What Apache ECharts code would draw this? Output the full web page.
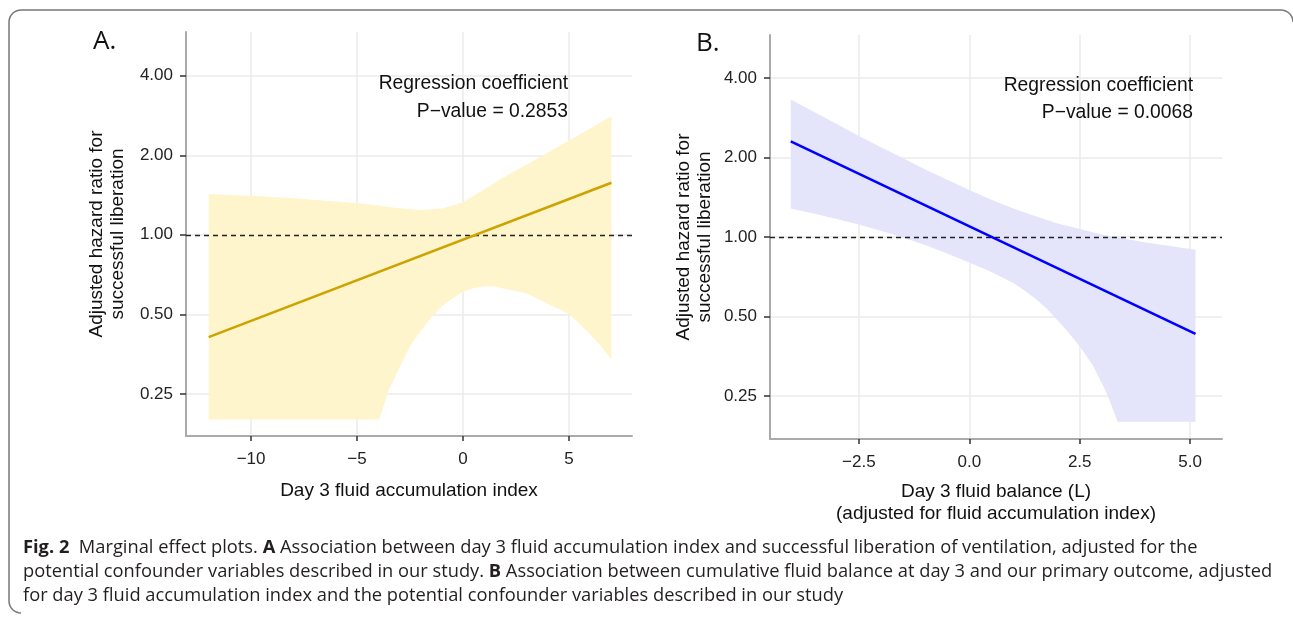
<!DOCTYPE html>
<html><head><meta charset="utf-8">
<script src="https://cdn.jsdelivr.net/npm/echarts@6/dist/echarts.min.js"></script>
<style>html,body{margin:0;padding:0;background:#fff}#c{width:1293px;height:618px}</style>
</head><body><div id="c"></div>
<script>
// ---- Panel A: day 3 fluid accumulation index ----
const aLineX = [-12, 7];
const aLineHR = [0.41, 1.573];
const aUpperX = [-12, -10, -8, -6, -5, -4, -3, -2, -1, -0.5, 0, 0.5, 1, 1.5, 2, 3, 4, 5, 6, 7];
const aUpperHR = [1.427, 1.404, 1.376, 1.338, 1.320, 1.292, 1.261, 1.240, 1.257, 1.292, 1.329, 1.404, 1.484, 1.575, 1.664, 1.847, 2.049, 2.273, 2.523, 2.809];
const aLowerX = [-12, -3.96, -3.75, -3.5, -3, -2.5, -2, -1.5, -1, -0.5, 0, 0.5, 1, 1.5, 2, 2.5, 3, 3.5, 4, 4.5, 5, 5.5, 6, 6.5, 7];
const aLowerHR = [0.2, 0.2, 0.225, 0.259, 0.314, 0.379, 0.432, 0.486, 0.536, 0.574, 0.607, 0.629, 0.637, 0.637, 0.624, 0.611, 0.599, 0.574, 0.547, 0.525, 0.5, 0.460, 0.420, 0.379, 0.337];

// ---- Panel B: day 3 fluid balance (L) ----
const bLineX = [-4.04, 5.12];
const bLineHR = [2.30, 0.43];
const bUpperX = [-4.04, -3.5, -3, -2.5, -2, -1.5, -1, -0.5, 0, 0.5, 1, 1.5, 2, 2.5, 3, 3.5, 4, 4.5, 5.12];
const bUpperHR = [3.317, 2.969, 2.676, 2.412, 2.188, 1.986, 1.802, 1.647, 1.505, 1.385, 1.283, 1.197, 1.125, 1.072, 1.021, 0.986, 0.953, 0.927, 0.895];
const bLowerX = [-4.04, -3.5, -3, -2.5, -2, -1.5, -1, -0.5, 0, 0.5, 1, 1.25, 1.5, 1.75, 2, 2.25, 2.5, 2.8, 3.1, 3.36, 5.12];
const bLowerHR = [1.283, 1.225, 1.170, 1.115, 1.057, 0.995, 0.932, 0.866, 0.800, 0.737, 0.669, 0.628, 0.584, 0.536, 0.484, 0.434, 0.386, 0.326, 0.259, 0.2, 0.2];

// ---- axes ----
const yTickHR = [0.25, 0.5, 1, 2, 4];
const xTicksA = [-10, -5, 0, 5];
const xTicksB = [-2.5, 0, 2.5, 5];
const refHR = 1;
const pA = 'P\u2212value = 0.2853';
const pB = 'P\u2212value = 0.0068';

const L2 = v => Math.log2(v);
const FONT = '"Liberation Sans", Arial, sans-serif';
const CAPFONT = '"Open Sans", "Noto Sans", sans-serif';
const yTickL = yTickHR.map(L2);

function pts(xs, ys) { return xs.map((x, i) => [x, L2(ys[i])]); }

function ribbon(xi, upX, upY, loX, loY, color) {
  const up = pts(upX, upY), lo = pts(loX, loY).reverse();
  return {
    type: 'custom', xAxisIndex: xi, yAxisIndex: xi, z: 1, silent: true,
    data: [up[0]],
    renderItem: function (params, api) {
      const points = up.concat(lo).map(p => api.coord(p));
      return { type: 'polygon', shape: { points: points }, style: { fill: color } };
    }
  };
}

function lineSeries(xi, xs, ys, color) {
  return {
    type: 'line', xAxisIndex: xi, yAxisIndex: xi, z: 5, silent: true,
    data: pts(xs, ys), showSymbol: false, symbol: 'none',
    lineStyle: { color: color, width: 2.6 },
    markLine: {
      silent: true, symbol: 'none', label: { show: false },
      lineStyle: { color: '#222', type: [5, 4], width: 1.4 },
      data: [{ yAxis: L2(refHR) }]
    }
  };
}

const minus = s => s.replace('-', '\u2212');

function xAxis(gi, min, max, ticks, fmt, name, nameGap, extra) {
  return Object.assign({
    type: 'value', gridIndex: gi, min: min, max: max,
    name: name, nameLocation: 'middle', nameGap: nameGap,
    nameTextStyle: { fontFamily: FONT, fontSize: 19, color: '#111', lineHeight: 22 },
    axisLine: { show: true, onZero: false, lineStyle: { color: '#aaaaaa', width: 2 } },
    axisTick: { show: true, length: 5, customValues: ticks, lineStyle: { color: '#333', width: 1.5 } },
    axisLabel: { customValues: ticks, margin: 15, fontFamily: FONT, fontSize: 17, color: '#222', formatter: fmt },
    splitLine: { show: true, lineStyle: { color: '#ebebeb', width: 1.5 } }
  }, extra || {});
}

function yAxis(gi, min, max, nameGap) {
  return {
    type: 'value', gridIndex: gi, min: min, max: max,
    name: 'Adjusted hazard ratio for\nsuccessful liberation', nameLocation: 'middle', nameGap: nameGap,
    nameTextStyle: { fontFamily: FONT, fontSize: 19, color: '#111', lineHeight: 21 },
    axisLine: { show: true, onZero: false, lineStyle: { color: '#aaaaaa', width: 2 } },
    axisTick: { show: true, length: 6, customValues: yTickL, lineStyle: { color: '#333', width: 1.5 } },
    axisLabel: { customValues: yTickL, margin: 13, fontFamily: FONT, fontSize: 17, color: '#222',
      formatter: v => Math.pow(2, v).toFixed(2) },
    splitLine: { show: true, lineStyle: { color: '#ebebeb', width: 1.5 } }
  };
}

// frame (top + left edges with rounded corners)
function arcPts(cx, cy, r, a0, a1) {
  const out = [];
  for (let i = 0; i <= 8; i++) { const a = a0 + (a1 - a0) * i / 8; out.push([cx + r * Math.cos(a), cy + r * Math.sin(a)]); }
  return out;
}
const framePts = [].concat(
  arcPts(21, 601, 12, Math.PI / 2, Math.PI),
  arcPts(21, 22, 12, Math.PI, 1.5 * Math.PI),
  arcPts(1281, 22, 12, 1.5 * Math.PI, 2 * Math.PI)
);

const capStyle = { fontFamily: CAPFONT, fontSize: 18.3, fill: '#231f20', verticalAlign: 'middle',
  rich: { b: { fontWeight: 'bold', fontFamily: CAPFONT, fontSize: 18.3, fill: '#231f20' } } };
const annStyle = { align: 'right', verticalAlign: 'middle', fontFamily: FONT, fontSize: 19.3, fill: '#111' };

const chart = echarts.init(document.getElementById('c'), null, { renderer: 'canvas' });
const option = {
  animation: false,
  backgroundColor: '#fff',
  grid: [
    { left: 186, top: 32, width: 446, height: 404 },
    { left: 770, top: 35, width: 452, height: 404 }
  ],
  xAxis: [
    xAxis(0, -13.07, 7.97, xTicksA, v => minus(String(v)), 'Day 3 fluid accumulation index', 44),
    xAxis(1, -4.51, 5.72, xTicksB, v => minus(v.toFixed(1)),
      'Day 3 fluid balance (L)\n(adjusted for fluid accumulation index)', 42, { minInterval: 2.5, maxInterval: 2.5 })
  ],
  yAxis: [
    yAxis(0, -2.53, 2.55, 58),
    yAxis(1, -2.54, 2.54, 55)
  ],
  series: [
    ribbon(0, aUpperX, aUpperHR, aLowerX, aLowerHR, '#fff5cc'),
    lineSeries(0, aLineX, aLineHR, '#cca300'),
    ribbon(1, bUpperX, bUpperHR, bLowerX, bLowerHR, '#e4e4fb'),
    lineSeries(1, bLineX, bLineHR, '#0000ff')
  ],
  graphic: [
    { type: 'polyline', silent: true, z: 100, shape: { points: framePts },
      style: { fill: null, stroke: '#777', lineWidth: 1.5 } },
    { type: 'text', z: 100, left: 93, top: 29, style: { text: 'A.', fontFamily: CAPFONT, fontSize: 26, fill: '#111' } },
    { type: 'text', z: 100, left: 696, top: 31, style: { text: 'B.', fontFamily: CAPFONT, fontSize: 26, fill: '#111' } },
    { type: 'text', z: 100, x: 568, y: 84, style: Object.assign({ text: 'Regression coefficient' }, annStyle) },
    { type: 'text', z: 100, x: 568, y: 112, style: Object.assign({ text: pA }, annStyle) },
    { type: 'text', z: 100, x: 1193, y: 86, style: Object.assign({ text: 'Regression coefficient' }, annStyle) },
    { type: 'text', z: 100, x: 1193, y: 113, style: Object.assign({ text: pB }, annStyle) },
    { type: 'text', z: 100, x: 23, y: 548, style: Object.assign({
        text: '{b|Fig. 2}  Marginal effect plots. {b|A} Association between day 3 fluid accumulation index and successful liberation of ventilation, adjusted for the' }, capStyle) },
    { type: 'text', z: 100, x: 23, y: 572, style: Object.assign({
        text: 'potential confounder variables described in our study. {b|B} Association between cumulative fluid balance at day 3 and our primary outcome, adjusted' }, capStyle) },
    { type: 'text', z: 100, x: 23, y: 596, style: Object.assign({
        text: 'for day 3 fluid accumulation index and the potential confounder variables described in our study' }, capStyle) }
  ]
};
chart.setOption(option);
</script></body></html>
